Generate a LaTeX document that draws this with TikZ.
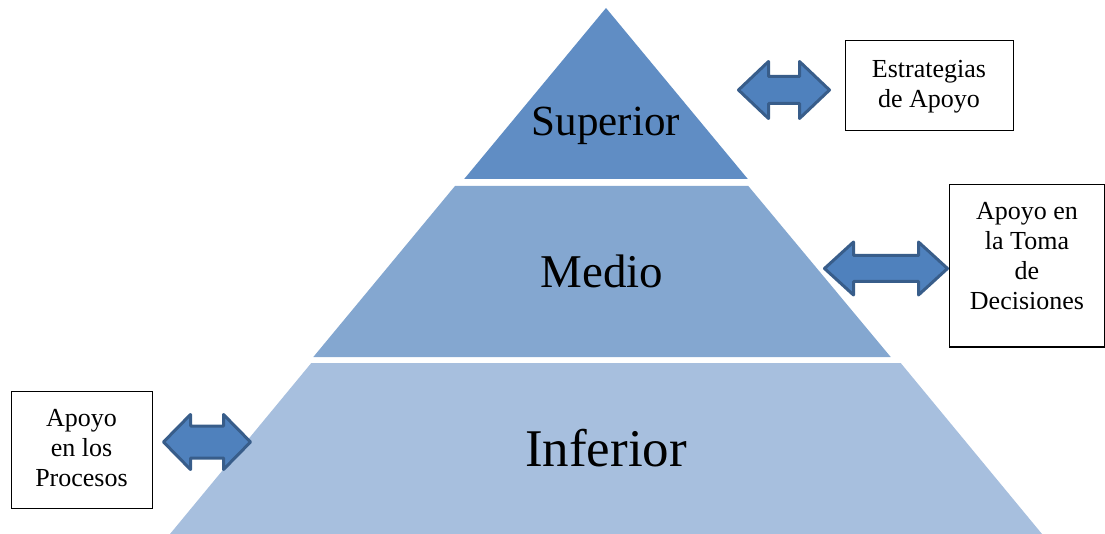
\documentclass[tikz,border=0pt]{standalone}
\usepackage{fontspec}
\setmainfont{Liberation Serif}
\usetikzlibrary{positioning}
\definecolor{supcolor}{RGB}{96,141,196}
\definecolor{medcolor}{RGB}{132,167,208}
\definecolor{infcolor}{RGB}{167,191,222}
\definecolor{arrowfill}{RGB}{79,129,189}
\definecolor{arrowline}{RGB}{56,93,138}

\tikzset{
  infobox/.style={draw=black, line width=1pt, fill=white, inner sep=0pt},
  boxtext/.style={align=center, inner sep=0pt, font=\fontsize{26}{30}\selectfont},
  levellabel/.style={anchor=base, inner sep=0pt},
  blockarrow/.style={fill=arrowfill, draw=arrowline, line width=3pt, line join=round},
  pics/dblarrow/.style n args={4}{code={
    \draw[blockarrow] (-#1,0) -- (-#1+#2,-#3) -- (-#1+#2,-#4) -- (#1-#2,-#4) -- (#1-#2,-#3) -- (#1,0)
      -- (#1-#2,#3) -- (#1-#2,#4) -- (-#1+#2,#4) -- (-#1+#2,#3) -- cycle;
  }}
}

\begin{document}
\begin{tikzpicture}[x=1pt, y=-1pt]
    \useasboundingbox (0,0) rectangle (1105,534);

    % Piramide
    \fill[supcolor] (606,8) -- (747.8,179) -- (464.2,179) -- cycle;
    \fill[medcolor] (455,186) -- (748.3,186) -- (890.7,357) -- (313.3,357) -- cycle;
    \fill[infcolor] (311.3,363) -- (900.7,363) -- (1042,534) -- (170,534) -- cycle;

    % Niveles
    \node[levellabel, font=\fontsize{43}{50}\selectfont] (superior) at (606,136) {Superior};
    \node[levellabel, font=\fontsize{47}{54}\selectfont] (medio) at (602,287.5) {Medio};
    \node[levellabel, font=\fontsize{53}{60}\selectfont] (inferior) at (606,466.5) {Inferior};

    % Cuadros de apoyo
    \node[infobox, minimum width=168, minimum height=90] (estrategias) at (929,86) {};
    \node[boxtext] (estrategiastxt) at (929,87) {Estrategias\\de Apoyo};
    \node[infobox, minimum width=155, minimum height=162] (decisiones) at (1027,266) {};
    \node[boxtext] (decisionestxt) at (1027,256) {Apoyo en\\la Toma\\de\\Decisiones};
    \node[infobox, minimum width=141, minimum height=117] (procesos) at (81.5,449.5) {};
    \node[boxtext] (procesostxt) at (81.5,448.5) {Apoyo\\en los\\Procesos};

    % Flechas dobles
    \pic at (784,90) {dblarrow={45.5}{30}{28.5}{13.5}};
    \pic at (886,268.5) {dblarrow={61.5}{29}{26.5}{13}};
    \pic at (207,442) {dblarrow={43.5}{27}{27.5}{16}};
\end{tikzpicture}
\end{document}
